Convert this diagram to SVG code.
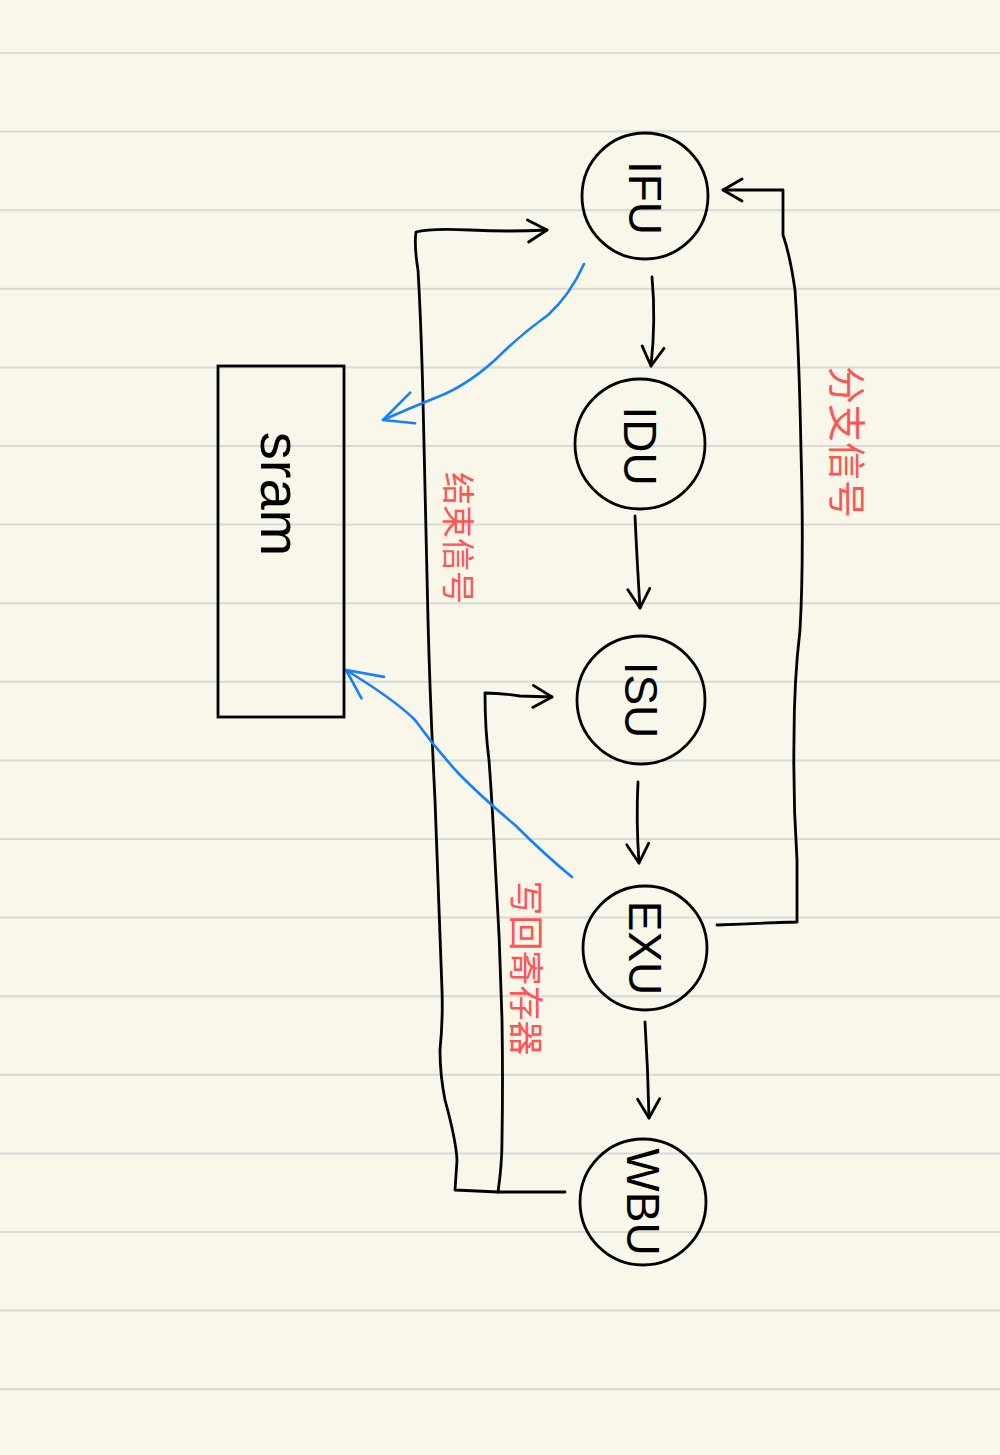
<svg xmlns="http://www.w3.org/2000/svg" width="1000" height="1455" viewBox="0 0 1000 1455">
<defs>
<style>
.rule{stroke:#d9d9d6;stroke-width:2}
.node{fill:none;stroke:#000;stroke-width:2.8}
.lbl{font-family:"Liberation Sans","Noto Sans",sans-serif;font-size:46px;fill:#000;text-anchor:middle;dominant-baseline:central}
.wire{fill:none;stroke:#000;stroke-width:2.8;stroke-linecap:round;stroke-linejoin:round}
.blue{fill:none;stroke:#1580ff;stroke-width:2.6;stroke-linecap:round;stroke-linejoin:round}
.red{font-family:"Liberation Sans","Noto Sans CJK SC",sans-serif;fill:#ff5555;text-anchor:middle;dominant-baseline:central}
</style>
<marker id="ah" viewBox="-22 -14 26 28" markerWidth="26" markerHeight="28" refX="0" refY="0" orient="auto" markerUnits="userSpaceOnUse">
<path d="M-19,-11 L0,0 L-19,11" fill="none" stroke="#000" stroke-width="2.8" stroke-linecap="round" stroke-linejoin="round"/>
</marker>
<marker id="ahb" viewBox="-40 -20 44 40" markerWidth="44" markerHeight="40" refX="0" refY="0" orient="auto" markerUnits="userSpaceOnUse">
<path d="M-28,-16 L0,0 L-36,14" fill="none" stroke="#1580ff" stroke-width="2.6" stroke-linecap="round" stroke-linejoin="round"/>
</marker>
</defs>
<rect width="1000" height="1455" fill="#f8f7ea"/>
<g id="rules">
<line class="rule" x1="0" x2="1000" y1="53" y2="53"/>
<line class="rule" x1="0" x2="1000" y1="131.6" y2="131.6"/>
<line class="rule" x1="0" x2="1000" y1="210.2" y2="210.2"/>
<line class="rule" x1="0" x2="1000" y1="288.8" y2="288.8"/>
<line class="rule" x1="0" x2="1000" y1="367.4" y2="367.4"/>
<line class="rule" x1="0" x2="1000" y1="446" y2="446"/>
<line class="rule" x1="0" x2="1000" y1="524.6" y2="524.6"/>
<line class="rule" x1="0" x2="1000" y1="603.2" y2="603.2"/>
<line class="rule" x1="0" x2="1000" y1="681.8" y2="681.8"/>
<line class="rule" x1="0" x2="1000" y1="760.4" y2="760.4"/>
<line class="rule" x1="0" x2="1000" y1="839" y2="839"/>
<line class="rule" x1="0" x2="1000" y1="917.6" y2="917.6"/>
<line class="rule" x1="0" x2="1000" y1="996.2" y2="996.2"/>
<line class="rule" x1="0" x2="1000" y1="1074.8" y2="1074.8"/>
<line class="rule" x1="0" x2="1000" y1="1153.4" y2="1153.4"/>
<line class="rule" x1="0" x2="1000" y1="1232" y2="1232"/>
<line class="rule" x1="0" x2="1000" y1="1310.6" y2="1310.6"/>
<line class="rule" x1="0" x2="1000" y1="1389.2" y2="1389.2"/>
</g>
<g id="connectors">
<path class="wire" d="M652,277 Q656,320 651,366" marker-end="url(#ah)"/>
<path class="wire" d="M635,516 Q637,560 640,608" marker-end="url(#ah)"/>
<path class="wire" d="M638,782 Q636,820 639,863" marker-end="url(#ah)"/>
<path class="wire" d="M645,1022 Q648,1070 649,1118" marker-end="url(#ah)"/>
<path class="wire" d="M717,925 Q760,923 797,922 L797,860 Q793,800 794,740 Q794,680 800,630 Q804,560 801,450 Q799,350 795,290 Q790,255 783,235 L783,190 L723,190" marker-end="url(#ah)"/>
<path class="wire" d="M565,1192 L498,1192 L455,1190 L457,1160 Q456,1140 445,1100 Q440,1075 440,1050 Q443,1020 442,990 Q439,900 435,800 Q430,700 428,620 Q425,500 423,400 Q421,320 418,270 Q414,245 416,232 Q430,228 470,230 Q510,232 547,230" marker-end="url(#ah)"/>
<path class="wire" d="M498,1192 Q502,1165 502,1140 Q503,1080 502,1020 Q500,940 495,860 Q492,800 489,760 Q485,730 485,693 Q500,693 520,696 L552,697" marker-end="url(#ah)"/>
<path class="blue" d="M584,264 Q570,295 548,315 Q520,335 495,360 Q465,387 435,398 Q410,408 383,420" marker-end="url(#ahb)"/>
<path class="blue" d="M572,877 Q545,855 515,825 Q485,800 460,775 Q435,748 415,720 Q395,700 346,670" marker-end="url(#ahb)"/>
</g>
<g id="IFU"><circle class="node" cx="645" cy="196" r="63"/><text class="lbl" transform="rotate(90 645 198)" x="645" y="198">IFU</text></g>
<g id="IDU"><circle class="node" cx="640" cy="444" r="65"/><text class="lbl" transform="rotate(90 640 446)" x="640" y="446">IDU</text></g>
<g id="ISU"><circle class="node" cx="641" cy="700" r="64"/><text class="lbl" transform="rotate(90 641 700)" x="641" y="700">ISU</text></g>
<g id="EXU"><circle class="node" cx="645" cy="948" r="62"/><text class="lbl" transform="rotate(90 645 948)" x="645" y="948">EXU</text></g>
<g id="WBU"><circle class="node" cx="643" cy="1202" r="63"/><text class="lbl" transform="rotate(90 643 1202)" x="643" y="1202">WBU</text></g>
<g id="sram"><rect class="node" x="218" y="366" width="126" height="351"/><text class="lbl" style="font-size:56px" transform="rotate(90 280 494)" x="280" y="494">sram</text></g>
<g id="labels">
<text class="red" style="font-size:38px" transform="rotate(90 846 442)" x="846" y="442">分支信号</text>
<text class="red" style="font-size:33px" transform="rotate(90 457 538)" x="457" y="538">结束信号</text>
<text class="red" style="font-size:35px" transform="rotate(90 525 968)" x="525" y="968">写回寄存器</text>
</g>
</svg>
